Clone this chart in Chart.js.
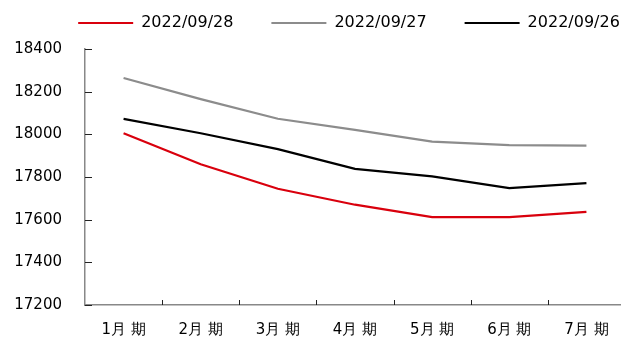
<!DOCTYPE html>
<html>
<head>
<meta charset="utf-8">
<script src="https://cdn.jsdelivr.net/npm/chart.js@4/dist/chart.umd.min.js"></script>
<style>
  html, body { margin: 0; padding: 0; background: #fff; overflow: hidden; }
  #wrap { width: 630px; height: 338px; }
</style>
</head>
<body>
<div id="wrap"><canvas id="lineChart" width="630" height="338"></canvas></div>
<script>
// contract months on the x axis
var months = ['1月 期', '2月 期', '3月 期', '4月 期', '5月 期', '6月 期', '7月 期'];

// settlement curves by date
var seriesNames = ['2022/09/28', '2022/09/27', '2022/09/26'];
var curve0928 = [18005, 17860, 17745, 17670, 17612, 17612, 17636];
var curve0927 = [18264, 18165, 18073, 18021, 17966, 17949, 17947];
var curve0926 = [18072, 18005, 17931, 17838, 17803, 17748, 17771];

var yTicks = [17200, 17400, 17600, 17800, 18000, 18200, 18400];

var colors = ['#d9000d', '#8c8c8c', '#000000'];

// short inward tick marks like the original office chart
var innerTicks = {
  id: 'innerTicks',
  afterLayout: function(chart) {
    // legend sits a bit right of the plot centre and close to the top
    var lg = chart.legend;
    var dx = 349 - (lg.left + lg.right) / 2;
    lg.left += dx;
    lg.right += dx;
    lg.top -= 27;
  },
  afterDraw: function(chart) {
    var ctx = chart.ctx;
    var area = chart.chartArea;
    var x = chart.scales.x;
    var y = chart.scales.y;
    ctx.save();
    ctx.strokeStyle = '#222';
    ctx.lineWidth = 1;
    ctx.beginPath();
    yTicks.forEach(function(v) {
      var py = Math.round(y.getPixelForValue(v)) + 0.5;
      ctx.moveTo(area.left, py);
      ctx.lineTo(area.left + 7, py);
    });
    var half = (x.getPixelForValue(1) - x.getPixelForValue(0)) / 2;
    for (var i = 1; i < months.length; i++) {
      var px = Math.round(x.getPixelForValue(i) - half) + 0.5;
      ctx.moveTo(px, area.bottom);
      ctx.lineTo(px, area.bottom - 5);
    }
    ctx.stroke();
    ctx.restore();
  }
};

var ctx = document.getElementById('lineChart').getContext('2d');
new Chart(ctx, {
  type: 'line',
  data: {
    labels: months,
    datasets: [
      { label: seriesNames[0], data: curve0928, borderColor: colors[0], backgroundColor: colors[0] },
      { label: seriesNames[1], data: curve0927, borderColor: colors[1], backgroundColor: colors[1] },
      { label: seriesNames[2], data: curve0926, borderColor: colors[2], backgroundColor: colors[2] }
    ]
  },
  options: {
    responsive: false,
    animation: false,
    layout: { padding: { left: 5, right: 5, top: 4, bottom: 1 } },
    elements: {
      line: { borderWidth: 2.25, tension: 0 },
      point: { radius: 0 }
    },
    scales: {
      x: {
        offset: true,
        afterFit: function(scale) { scale.height = 32; },
        grid: { display: false, drawTicks: false },
        border: { display: true, color: '#888', width: 1.5 },
        ticks: {
          color: '#000',
          padding: 16,
          maxRotation: 0,
          font: { family: 'DejaVu Sans', size: 15 }
        }
      },
      y: {
        min: 17200,
        max: 18400,
        afterFit: function(scale) { scale.width = 80; },
        afterBuildTicks: function(scale) {
          scale.ticks = yTicks.map(function(v) { return { value: v }; });
        },
        grid: { display: false, drawTicks: false },
        border: { display: true, color: '#888', width: 1.5 },
        ticks: {
          color: '#000',
          padding: 23,
          font: { family: 'DejaVu Sans', size: 15 },
          callback: function(v) { return String(v); }
        }
      }
    },
    plugins: {
      legend: {
        display: true,
        position: 'top',
        maxHeight: 45,
        labels: {
          boxWidth: 55,
          boxHeight: 2,
          padding: 38,
          color: '#000',
          font: { family: 'DejaVu Sans', size: 16 },
          generateLabels: function(chart) {
            var items = Chart.defaults.plugins.legend.labels.generateLabels(chart);
            items.forEach(function(it) { it.lineWidth = 0; });
            return items;
          }
        }
      },
      tooltip: { enabled: false }
    }
  },
  plugins: [innerTicks]
});
</script>
</body>
</html>
